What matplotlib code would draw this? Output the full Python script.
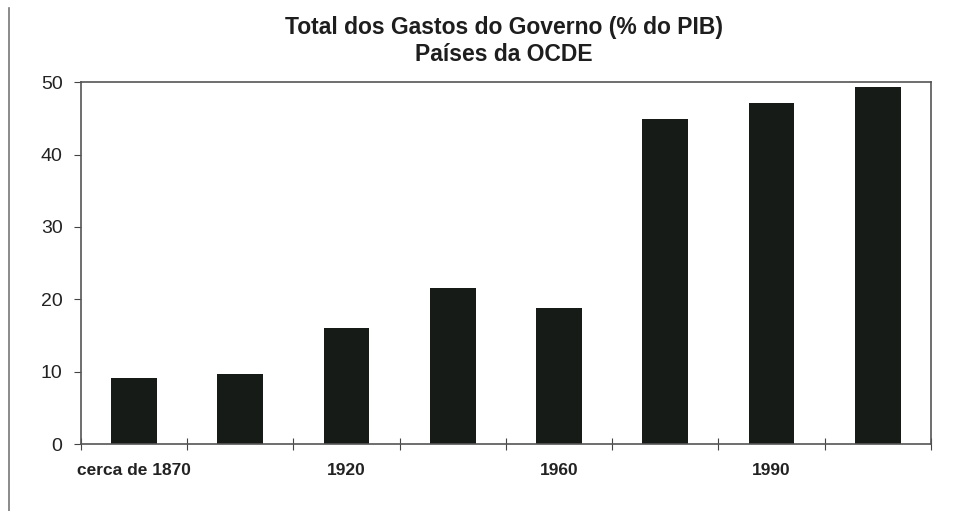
import matplotlib
matplotlib.use("Agg")
import matplotlib.pyplot as plt
from matplotlib.lines import Line2D

periodos = ["cerca de 1870", "1913", "1920", "1937", "1960", "1980", "1990", "1996"]
rotulos_x = ["cerca de 1870", "", "1920", "", "1960", "", "1990", ""]
gastos = [9.1, 9.65, 16.1, 21.6, 18.75, 44.9, 47.2, 49.3]

plt.rcParams["font.family"] = ["Liberation Sans", "DejaVu Sans"]

fig = plt.figure(figsize=(9.8, 5.11), dpi=100)
ax = fig.add_axes([0.0823, 0.131, 0.8677, 0.708])

x = list(range(len(periodos)))
ax.bar(x, gastos, width=0.43, color="#161b18")

ax.set_xlim(-0.5, len(periodos) - 0.5)
ax.set_ylim(0, 50)
ax.set_yticks([0, 10, 20, 30, 40, 50])
ax.tick_params(axis="y", labelsize=14, length=5, color="#444444", labelcolor="#222222", pad=8)

# ticks on category boundaries, labels under every other bar
ax.set_xticks([i - 0.5 for i in range(len(periodos) + 1)])
ax.set_xticklabels([])
ax.tick_params(axis="x", direction="inout", length=9, color="#444444")
for i, lab in enumerate(rotulos_x):
    if lab:
        ax.text(i, -3.6, lab, ha="center", va="center", fontsize=12.5,
                fontweight="bold", color="#222222")

for s in ax.spines.values():
    s.set_color("#555555")
    s.set_linewidth(1.2)

fig.text(0.514, 0.947, "Total dos Gastos do Governo (% do PIB)", ha="center",
         va="center", fontsize=16.5, fontweight="bold", color="#1e1e1e")
fig.text(0.514, 0.893, "Países da OCDE", ha="center", va="center",
         fontsize=16.5, fontweight="bold", color="#1e1e1e")

# page border line from the scan
fig.add_artist(Line2D([0.0092, 0.0092], [0.0, 0.985], color="#777777", lw=1.2))

fig.savefig("out.png", dpi=100, facecolor="white")
